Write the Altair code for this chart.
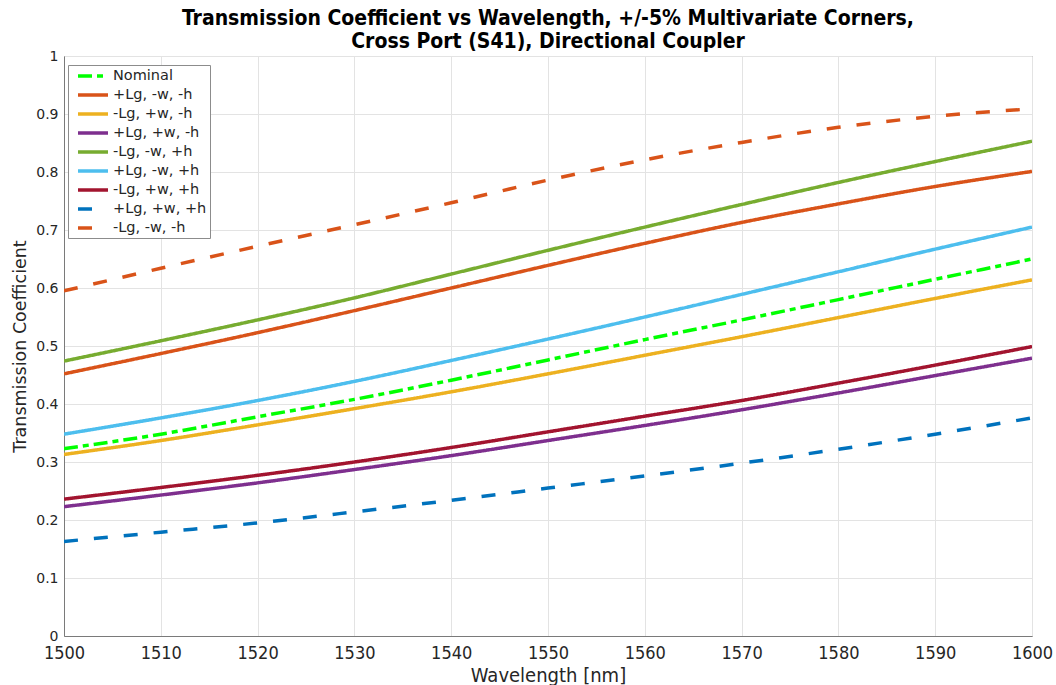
import altair as alt
import pandas as pd

# Wavelength sweep (nm)
wavelength_nm = [1500, 1510, 1520, 1530, 1540, 1550, 1560, 1570, 1580, 1590, 1600]

# Cross-port transmission for nominal geometry and the +/-5% corners
nominal = [0.323, 0.348, 0.378, 0.408, 0.441, 0.476, 0.511, 0.545, 0.580, 0.615, 0.650]
plg_mw_mh = [0.452, 0.487, 0.523, 0.561, 0.600, 0.639, 0.677, 0.713, 0.745, 0.775, 0.801]
mlg_pw_mh = [0.313, 0.337, 0.364, 0.392, 0.421, 0.452, 0.484, 0.516, 0.549, 0.582, 0.614]
plg_pw_mh = [0.223, 0.243, 0.264, 0.287, 0.311, 0.337, 0.363, 0.390, 0.419, 0.449, 0.479]
mlg_mw_ph = [0.474, 0.509, 0.545, 0.583, 0.624, 0.665, 0.705, 0.744, 0.782, 0.818, 0.853]
plg_mw_ph = [0.348, 0.376, 0.406, 0.439, 0.475, 0.512, 0.550, 0.589, 0.628, 0.667, 0.705]
mlg_pw_ph = [0.236, 0.256, 0.277, 0.300, 0.325, 0.352, 0.379, 0.406, 0.436, 0.467, 0.499]
plg_pw_ph = [0.163, 0.179, 0.195, 0.214, 0.234, 0.255, 0.276, 0.298, 0.322, 0.348, 0.376]
mlg_mw_mh = [0.595, 0.634, 0.672, 0.709, 0.747, 0.786, 0.821, 0.851, 0.877, 0.896, 0.909]

series_names = [
    "Nominal",
    "+Lg, -w, -h",
    "-Lg, +w, -h",
    "+Lg, +w, -h",
    "-Lg, -w, +h",
    "+Lg, -w, +h",
    "-Lg, +w, +h",
    "+Lg, +w, +h",
    "-Lg, -w, -h ",
]
series_values = [
    nominal, plg_mw_mh, mlg_pw_mh, plg_pw_mh, mlg_mw_ph,
    plg_mw_ph, mlg_pw_ph, plg_pw_ph, mlg_mw_mh,
]
series_colors = [
    "#00FF00", "#D95319", "#EDB120", "#7E2F8E", "#77AC30",
    "#4DBEEE", "#A2142F", "#0072BD", "#D95319",
]
series_dashes = [
    [14, 5, 6, 5], [1, 0], [1, 0], [1, 0], [1, 0],
    [1, 0], [1, 0], [14, 16], [14, 16],
]

rows = []
for idx, (name, vals) in enumerate(zip(series_names, series_values)):
    for w, v in zip(wavelength_nm, vals):
        rows.append({"wavelength": w, "transmission": v, "corner": name, "k": idx})
df = pd.DataFrame(rows)

FONT = "DejaVu Sans"
FONT_C = "DejaVu Sans Condensed"
INK = "#262626"
FRAME = "#7a7a7a"

legend = alt.Legend(
    title=None,
    orient="none",
    legendX=4,
    legendY=9,
    symbolType="M-2.5,0H2.5",
    symbolSize=144,
    symbolStrokeWidth=3.5,
    symbolOffset=14,
    labelOffset=12,
    labelFont=FONT,
    labelFontSize=14.5,
    labelColor=INK,
    labelLimit=300,
    rowPadding=4,
    padding=3,
    fillColor="white",
    strokeColor="#8c8c8c",
)

chart = (
    alt.Chart(df)
    .mark_line(strokeWidth=3.5, interpolate="monotone", clip=True)
    .encode(
        x=alt.X(
            "wavelength:Q",
            scale=alt.Scale(domain=[1500, 1600], nice=False),
            axis=alt.Axis(
                title="Wavelength [nm]",
                values=list(range(1500, 1601, 10)),
                format="d",
                labelFont=FONT_C,
                labelFontSize=18,
                titleFont=FONT_C,
                titleFontSize=20,
                labelFlush=False,
                labelPadding=8,
                titlePadding=3,
            ),
        ),
        y=alt.Y(
            "transmission:Q",
            scale=alt.Scale(domain=[0, 1], nice=False),
            axis=alt.Axis(
                title="Transmission Coefficient",
                values=[round(i * 0.1, 1) for i in range(11)],
                format="~g",
                labelFont=FONT,
                labelFontSize=14,
                titleFont=FONT,
                titleFontSize=17.5,
                labelFlush=False,
                labelPadding=6,
                titlePadding=6,
            ),
        ),
        color=alt.Color(
            "corner:N",
            scale=alt.Scale(domain=series_names, range=series_colors),
            sort=series_names,
            legend=legend,
        ),
        strokeDash=alt.StrokeDash(
            "corner:N",
            scale=alt.Scale(domain=series_names, range=series_dashes),
            sort=series_names,
            legend=legend,
        ),
        order=alt.Order("k:Q"),
    )
    .properties(
        width=968,
        height=580,
        title=alt.Title(
            text=[
                "Transmission Coefficient vs Wavelength, +/-5% Multivariate Corners,",
                "Cross Port (S41), Directional Coupler",
            ],
            font=FONT_C,
            fontSize=21,
            fontWeight="bold",
            color="#000000",
            lineHeight=23,
            anchor="middle",
            offset=-3,
        ),
        autosize=alt.AutoSizeParams(type="none"),
        padding={"left": 64, "top": 56, "right": 24, "bottom": 49},
    )
    .configure_view(stroke=FRAME, strokeWidth=1)
    .configure_axis(
        titleFontWeight="normal",
        labelColor=INK,
        titleColor=INK,
        grid=True,
        gridColor="#e3e3e3",
        gridWidth=1,
        domainColor=FRAME,
        ticks=False,
    )
)

chart.save("out.html", embed_options={"renderer": "svg", "actions": False})
